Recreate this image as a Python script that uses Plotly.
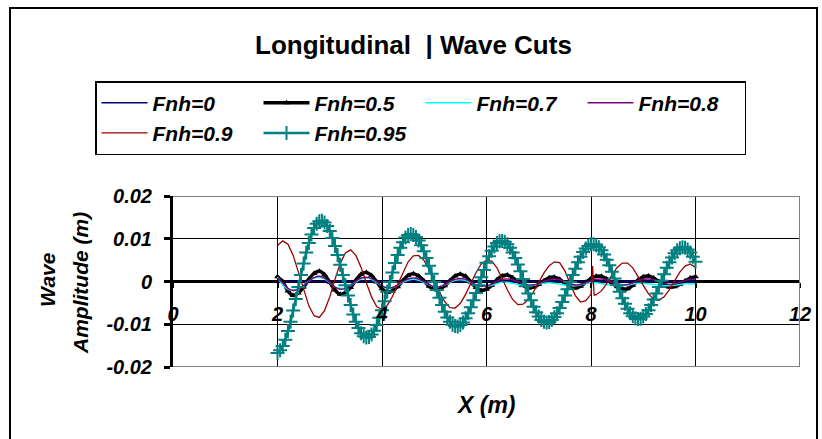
import plotly.graph_objects as go

# ---------------- data ----------------
x_grid_01 = [round(2.0 + 0.1 * i, 2) for i in range(81)]
x_grid_005 = [round(2.0 + 0.05 * i, 2) for i in range(161)]

fnh0_x = [2.0, 10.0]
fnh0_y = [0.0, 0.0]

fnh05_y = [0.0011, 0.0000, -0.0022, -0.0033, -0.0027, -0.0013, 0.0005, 0.0019, 0.0024, 0.0016,
           -0.0002, -0.0020, -0.0030, -0.0026, -0.0014, 0.0003, 0.0017, 0.0021, 0.0014, -0.0001,
           -0.0017, -0.0025, -0.0022, -0.0012, 0.0002, 0.0014, 0.0018, 0.0013, 0.0002, -0.0011,
           -0.0019, -0.0018, -0.0010, 0.0002, 0.0013, 0.0017, 0.0012, -0.0001, -0.0014, -0.0021,
           -0.0018, -0.0009, 0.0004, 0.0013, 0.0015, 0.0009, 0.0000, -0.0009, -0.0015, -0.0013,
           -0.0007, 0.0002, 0.0009, 0.0010, 0.0005, -0.0004, -0.0012, -0.0015, -0.0011, -0.0002,
           0.0007, 0.0012, 0.0012, 0.0006, -0.0003, -0.0012, -0.0017, -0.0017, -0.0009, 0.0003,
           0.0011, 0.0013, 0.0008, 0.0000, -0.0008, -0.0013, -0.0012, -0.0007, 0.0001, 0.0008, 0.0011]

fnh07_y = [0.0010, -0.0008, -0.0018, -0.0020, -0.0016, -0.0008, 0.0001, 0.0008, 0.0010, 0.0006,
           -0.0003, -0.0012, -0.0016, -0.0015, -0.0009, -0.0001, 0.0006, 0.0008, 0.0005, -0.0003,
           -0.0010, -0.0014, -0.0014, -0.0009, -0.0002, 0.0003, 0.0005, 0.0003, -0.0002, -0.0008,
           -0.0012, -0.0012, -0.0008, -0.0002, 0.0003, 0.0004, 0.0002, -0.0003, -0.0008, -0.0011,
           -0.0011, -0.0009, -0.0005, -0.0002, -0.0002, -0.0004, -0.0007, -0.0009, -0.0010, -0.0009,
           -0.0006, -0.0004, -0.0003, -0.0004, -0.0006, -0.0008, -0.0010, -0.0010, -0.0008, -0.0005,
           -0.0003, -0.0003, -0.0005, -0.0007, -0.0009, -0.0010, -0.0010, -0.0008, -0.0006, -0.0004,
           -0.0004, -0.0005, -0.0007, -0.0009, -0.0010, -0.0010, -0.0009, -0.0007, -0.0005, -0.0005, -0.0006]

fnh08_y = [0.0008, -0.0003, -0.0016, -0.0021, -0.0018, -0.0010, 0.0001, 0.0009, 0.0012, 0.0008,
           -0.0002, -0.0013, -0.0018, -0.0016, -0.0009, 0.0001, 0.0008, 0.0010, 0.0007, -0.0001,
           -0.0010, -0.0015, -0.0014, -0.0008, 0.0000, 0.0006, 0.0008, 0.0006, 0.0000, -0.0007,
           -0.0012, -0.0012, -0.0007, 0.0000, 0.0005, 0.0007, 0.0005, -0.0001, -0.0008, -0.0011,
           -0.0010, -0.0006, 0.0001, 0.0005, 0.0006, 0.0004, 0.0000, -0.0005, -0.0008, -0.0008,
           -0.0005, 0.0000, 0.0004, 0.0006, 0.0004, 0.0000, -0.0005, -0.0008, -0.0007, -0.0003,
           0.0002, 0.0005, 0.0006, 0.0004, -0.0001, -0.0005, -0.0008, -0.0007, -0.0003, 0.0002,
           0.0005, 0.0006, 0.0004, 0.0000, -0.0004, -0.0007, -0.0006, -0.0002, 0.0002, 0.0005, 0.0006]

fnh09_x = [2.0, 2.1, 2.2, 2.3, 2.4, 2.5, 2.6, 2.7, 2.8, 2.9,
           3.0, 3.1, 3.2, 3.3, 3.4, 3.5, 3.6, 3.7, 3.8, 3.9,
           4.0, 4.1, 4.2, 4.3, 4.4, 4.5, 4.6, 4.7, 4.8, 4.9,
           5.0, 5.1, 5.2, 5.3, 5.4, 5.5, 5.6, 5.7, 5.8, 5.9,
           6.0, 6.1, 6.2, 6.3, 6.4, 6.5, 6.6, 6.7, 6.8, 6.9,
           7.0, 7.1, 7.2, 7.3, 7.4, 7.5, 7.6, 7.7, 7.8, 7.9,
           8.0, 8.03, 8.06, 8.1, 8.2, 8.3, 8.4, 8.5, 8.6, 8.7,
           8.8, 8.9, 9.0, 9.1, 9.2, 9.3, 9.4, 9.5, 9.6, 9.7,
           9.8, 9.9, 10.0]
fnh09_y = [0.0084, 0.0095, 0.0087, 0.0061, 0.0022, -0.0020, -0.0057, -0.0080, -0.0084, -0.0068,
           -0.0036, 0.0005, 0.0042, 0.0067, 0.0074, 0.0061, 0.0033, -0.0003, -0.0036, -0.0059,
           -0.0065, -0.0056, -0.0035, -0.0007, 0.0021, 0.0046, 0.0060, 0.0061, 0.0050, 0.0029,
           0.0002, -0.0025, -0.0047, -0.0061, -0.0062, -0.0051, -0.0030, -0.0005, 0.0021, 0.0041,
           0.0050, 0.0048, 0.0032, 0.0007, -0.0020, -0.0042, -0.0054, -0.0053, -0.0042, -0.0024,
           -0.0002, 0.0020, 0.0037, 0.0046, 0.0044, 0.0025, -0.0005, -0.0033, -0.0048, -0.0045,
           -0.0030, 0.0036, -0.0032, -0.0031, -0.0022, -0.0005, 0.0015, 0.0033, 0.0043, 0.0043,
           0.0032, 0.0013, -0.0009, -0.0029, -0.0041, -0.0044, -0.0036, -0.0019, 0.0002, 0.0022,
           0.0036, 0.0041, 0.0033]

fnh095_y = [-0.0167, -0.0161, -0.0151, -0.0136, -0.0116, -0.0094, -0.0068, -0.0041, -0.0013, 0.0015,
            0.0042, 0.0068, 0.0090, 0.0110, 0.0125, 0.0135, 0.0141, 0.0142, 0.0138, 0.0130,
            0.0118, 0.0102, 0.0083, 0.0062, 0.0039, 0.0015, -0.0009, -0.0033, -0.0055, -0.0077,
            -0.0094, -0.0109, -0.0121, -0.0128, -0.0131, -0.0130, -0.0124, -0.0115, -0.0102, -0.0085,
            -0.0067, -0.0046, -0.0024, -0.0001, 0.0021, 0.0043, 0.0062, 0.0079, 0.0092, 0.0103,
            0.0109, 0.0111, 0.0109, 0.0104, 0.0096, 0.0085, 0.0071, 0.0055, 0.0037, 0.0018,
            -0.0001, -0.0020, -0.0038, -0.0055, -0.0071, -0.0084, -0.0094, -0.0101, -0.0104, -0.0105,
            -0.0102, -0.0096, -0.0086, -0.0074, -0.0060, -0.0044, -0.0027, -0.0009, 0.0010, 0.0027,
            0.0044, 0.0059, 0.0072, 0.0082, 0.0090, 0.0094, 0.0095, 0.0093, 0.0087, 0.0079,
            0.0068, 0.0055, 0.0040, 0.0024, 0.0006, -0.0011, -0.0028, -0.0044, -0.0059, -0.0072,
            -0.0082, -0.0090, -0.0094, -0.0096, -0.0095, -0.0090, -0.0083, -0.0074, -0.0062, -0.0048,
            -0.0033, -0.0018, -0.0001, 0.0015, 0.0030, 0.0045, 0.0058, 0.0069, 0.0077, 0.0083,
            0.0087, 0.0087, 0.0085, 0.0080, 0.0073, 0.0063, 0.0051, 0.0038, 0.0023, 0.0007,
            -0.0008, -0.0024, -0.0039, -0.0052, -0.0064, -0.0074, -0.0081, -0.0086, -0.0088, -0.0087,
            -0.0082, -0.0076, -0.0067, -0.0055, -0.0042, -0.0028, -0.0013, 0.0002, 0.0017, 0.0032,
            0.0045, 0.0056, 0.0066, 0.0073, 0.0078, 0.0080, 0.0079, 0.0075, 0.0068, 0.0058, 0.0046]

series_names = ["Fnh=0", "Fnh=0.5", "Fnh=0.7", "Fnh=0.8", "Fnh=0.9", "Fnh=0.95"]
x_tick_vals = [0, 2, 4, 6, 8, 10, 12]
x_tick_text = ["0", "2", "4", "6", "8", "10", "12"]
y_tick_vals = [-0.02, -0.01, 0, 0.01, 0.02]
y_tick_text = ["-0.02", "-0.01", "0", "0.01", "0.02"]

# ---------------- figure ----------------
W, H = 822, 439
L, R, T, B = 173, 22, 196, 72
PW, PH = W - L - R, H - T - B


def px(xp):
    return (xp - L) / PW


def py(yp):
    return (H - B - yp) / PH


FONT = "Arial, 'Liberation Sans', sans-serif"

fig = go.Figure()
fig.add_trace(go.Scatter(x=fnh0_x, y=fnh0_y, name=series_names[0], mode="lines",
                         line=dict(color="#000080", width=1.5)))
fig.add_trace(go.Scatter(x=x_grid_01, y=fnh05_y, name=series_names[1], mode="lines+markers",
                         line=dict(color="#000000", width=3.5, shape="spline", smoothing=1),
                         marker=dict(symbol="triangle-up", size=6, color="#000000")))
fig.add_trace(go.Scatter(x=x_grid_01, y=fnh07_y, name=series_names[2], mode="lines",
                         line=dict(color="#00FFFF", width=1.5, shape="spline", smoothing=1)))
fig.add_trace(go.Scatter(x=x_grid_01, y=fnh08_y, name=series_names[3], mode="lines",
                         line=dict(color="#800080", width=1.5, shape="spline", smoothing=1)))
fig.add_trace(go.Scatter(x=fnh09_x, y=fnh09_y, name=series_names[4], mode="lines",
                         line=dict(color="#990000", width=1.3)))
fig.add_trace(go.Scatter(x=x_grid_005, y=fnh095_y, name=series_names[5], mode="lines+markers",
                         line=dict(color="#008080", width=2.5, shape="spline", smoothing=1),
                         marker=dict(symbol="cross-thin", size=10,
                                     line=dict(color="#008080", width=2))))

shapes = [
    # outer chart border
    dict(type="rect", xref="paper", yref="paper", x0=px(10), x1=px(817), y0=py(460), y1=py(8),
         line=dict(color="black", width=2), layer="below"),
    # plot area border (gray) top, right, bottom
    dict(type="line", xref="x", yref="y", x0=0, x1=12, y0=0.02, y1=0.02,
         line=dict(color="#808080", width=2), layer="above"),
    dict(type="line", xref="x", yref="y", x0=12, x1=12, y0=-0.02, y1=0.02,
         line=dict(color="#808080", width=2), layer="above"),
    dict(type="line", xref="x", yref="y", x0=0, x1=12, y0=-0.02, y1=-0.02,
         line=dict(color="#808080", width=2), layer="above"),
]

annotations = [
    dict(text="Longitudinal\u00a0\u00a0| Wave Cuts", xref="paper", yref="paper",
         x=px(413), y=py(45), showarrow=False, xanchor="center", yanchor="middle",
         font=dict(family=FONT, size=26, color="black", weight="bold")),
    dict(text="X (m)", xref="paper", yref="paper", x=px(486), y=py(405), showarrow=False,
         xanchor="center", yanchor="middle",
         font=dict(family=FONT, size=23, color="black", weight="bold", style="italic")),
    dict(text="Wave", xref="paper", yref="paper", x=px(47), y=py(280), showarrow=False,
         textangle=-90, xanchor="center", yanchor="middle",
         font=dict(family=FONT, size=21, color="black", weight="bold", style="italic")),
    dict(text="Amplitude (m)", xref="paper", yref="paper", x=px(80), y=py(283), showarrow=False,
         textangle=-90, xanchor="center", yanchor="middle",
         font=dict(family=FONT, size=21, color="black", weight="bold", style="italic")),
]

fig.update_layout(
    width=W, height=H,
    margin=dict(l=L, r=R, t=T, b=B, pad=0),
    paper_bgcolor="white", plot_bgcolor="white",
    showlegend=True,
    legend=dict(orientation="h", x=px(95), y=py(81), xanchor="left", yanchor="top",
                bgcolor="white", bordercolor="black", borderwidth=1.5,
                entrywidth=101, entrywidthmode="pixels", itemwidth=46,
                font=dict(family=FONT, size=21, color="black", weight="bold", style="italic"),
                tracegroupgap=0),
    shapes=shapes,
    annotations=annotations,
    xaxis=dict(range=[0, 12], tickvals=x_tick_vals, ticktext=x_tick_text,
               anchor="free", position=0.5, showline=False, zeroline=False,
               showgrid=True, gridcolor="black", gridwidth=1,
               ticks="outside", ticklen=5, tickwidth=2, tickcolor="black",
               ticklabelstandoff=9,
               tickfont=dict(family=FONT, size=20, color="black", weight="bold", style="italic")),
    yaxis=dict(range=[-0.02, 0.02], tickvals=y_tick_vals, ticktext=y_tick_text,
               showline=True, linecolor="black", linewidth=3,
               zeroline=True, zerolinecolor="black", zerolinewidth=3,
               showgrid=True, gridcolor="black", gridwidth=1,
               ticks="outside", ticklen=6, tickwidth=3, tickcolor="black",
               ticklabelstandoff=8,
               tickfont=dict(family=FONT, size=20, color="black", weight="bold", style="italic")),
)

fig.write_html("out.html")
